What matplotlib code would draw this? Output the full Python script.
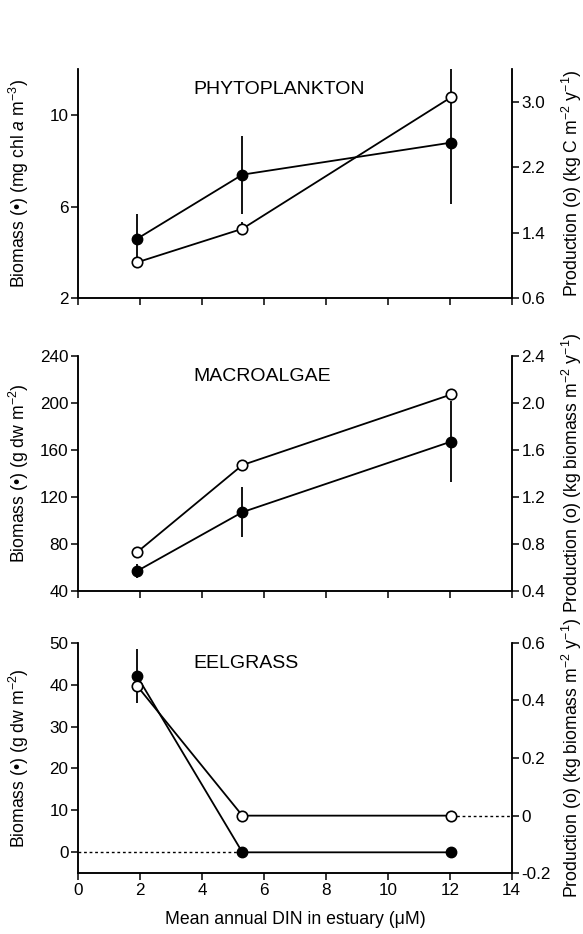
import matplotlib
matplotlib.use("Agg")
import matplotlib.pyplot as plt

plt.rcParams['font.family'] = ['Liberation Sans', 'DejaVu Sans']
plt.rcParams['mathtext.fontset'] = 'custom'
plt.rcParams['mathtext.rm'] = 'Liberation Sans'
plt.rcParams['mathtext.it'] = 'Liberation Sans:italic'
plt.rcParams['axes.unicode_minus'] = False

# mean annual DIN for the three estuaries
din = [1.9, 5.3, 12.05]

# phytoplankton
phyto_biomass = [4.6, 7.4, 8.8]
phyto_biomass_err_lo = [1.1, 1.7, 2.7]
phyto_biomass_err_hi = [1.1, 1.7, 3.4]
phyto_prod = [1.04, 1.45, 3.06]
phyto_prod_err = [0.0, 0.08, 0.0]

# macroalgae
macro_biomass = [57, 107, 167]
macro_biomass_err = [6, 21, 34]
macro_prod = [0.73, 1.47, 2.07]

# eelgrass
eel_biomass = [42, 0, 0]
eel_biomass_err = [6.4, 0, 0]
eel_prod = [0.45, 0, 0]

x_ticks = [0, 2, 4, 6, 8, 10, 12, 14]

panels = [
    dict(title='PHYTOPLANKTON', bio=phyto_biomass, bio_err=[phyto_biomass_err_lo, phyto_biomass_err_hi],
         prod=phyto_prod, prod_err=phyto_prod_err,
         ylim=(2, 12), yticks=[2, 6, 10], y2lim=(0.6, 3.4), y2ticks=[0.6, 1.4, 2.2, 3.0],
         y2labels=['0.6', '1.4', '2.2', '3.0'],
         ylabel=r'Biomass (•) (mg chl $\mathit{a}$ m$^{-3}$)',
         y2label=r'Production (o) (kg C m$^{-2}$ y$^{-1}$)'),
    dict(title='MACROALGAE', bio=macro_biomass, bio_err=macro_biomass_err,
         prod=macro_prod, prod_err=None,
         ylim=(40, 240), yticks=[40, 80, 120, 160, 200, 240], y2lim=(0.4, 2.4),
         y2ticks=[0.4, 0.8, 1.2, 1.6, 2.0, 2.4], y2labels=['0.4', '0.8', '1.2', '1.6', '2.0', '2.4'],
         ylabel=r'Biomass (•) (g dw m$^{-2}$)',
         y2label=r'Production (o) (kg biomass m$^{-2}$ y$^{-1}$)'),
    dict(title='EELGRASS', bio=eel_biomass, bio_err=eel_biomass_err,
         prod=eel_prod, prod_err=None,
         ylim=(-5, 50), yticks=[0, 10, 20, 30, 40, 50], y2lim=(-0.2, 0.6),
         y2ticks=[-0.2, 0, 0.2, 0.4, 0.6], y2labels=['-0.2', '0', '0.2', '0.4', '0.6'],
         ylabel=r'Biomass (•) (g dw m$^{-2}$)',
         y2label=r'Production (o) (kg biomass m$^{-2}$ y$^{-1}$)'),
]

# axes boxes in figure fraction: left, bottom, width, height
boxes = [(0.1343, 0.6806, 0.7434, 0.2452),
         (0.1343, 0.3672, 0.7434, 0.2521),
         (0.1343, 0.0650, 0.7434, 0.2469)]

fig = plt.figure(figsize=(5.83, 9.34), dpi=100)

for i, (p, box) in enumerate(zip(panels, boxes)):
    ax = fig.add_axes(box)
    ax2 = ax.twinx()

    ax.errorbar(din, p['bio'], yerr=p['bio_err'], color='black', lw=1.3, elinewidth=1.3,
                marker='o', ms=7.5, mfc='black', mec='black', capsize=0, zorder=3)
    ax2.errorbar(din, p['prod'], yerr=p['prod_err'], color='black', lw=1.3, elinewidth=1.3,
                 marker='o', ms=7.5, mfc='white', mec='black', mew=1.2, capsize=0, zorder=3)

    if p['title'] == 'EELGRASS':
        # zero lines where the beds have disappeared
        ax.hlines(0, 0, din[1], colors='black', linestyles=(0, (2, 2)), lw=1)
        ax2.hlines(0, din[2], 14, colors='black', linestyles=(0, (2, 2)), lw=1)

    ax.set_xlim(0, 14)
    ax.set_ylim(*p['ylim'])
    ax.set_yticks(p['yticks'])
    ax2.set_ylim(*p['y2lim'])
    ax2.set_yticks(p['y2ticks'])
    ax2.set_yticklabels(p['y2labels'])
    ax.set_xticks(x_ticks)
    if i < 2:
        ax.set_xticklabels([])
    else:
        ax.set_xlabel('Mean annual DIN in estuary (μM)', fontsize=12.7)
        ax.xaxis.set_label_coords(0.5, -0.165)

    for a in (ax, ax2):
        a.spines['top'].set_visible(False)
        for s in a.spines.values():
            s.set_linewidth(1.1)
        a.tick_params(direction='out', length=5, width=1.1, labelsize=12.3, pad=2)

    ax.set_ylabel(p['ylabel'], fontsize=12.7)
    ax.yaxis.set_label_coords(-0.11, 0.5)
    ax2.set_ylabel(p['y2label'], fontsize=12.7)
    ax2.yaxis.set_label_coords(1.112, 0.5)

    ax.text(0.265, 0.91, p['title'], transform=ax.transAxes, fontsize=14,
            ha='left', va='center')

fig.savefig('out.png', dpi=100)
